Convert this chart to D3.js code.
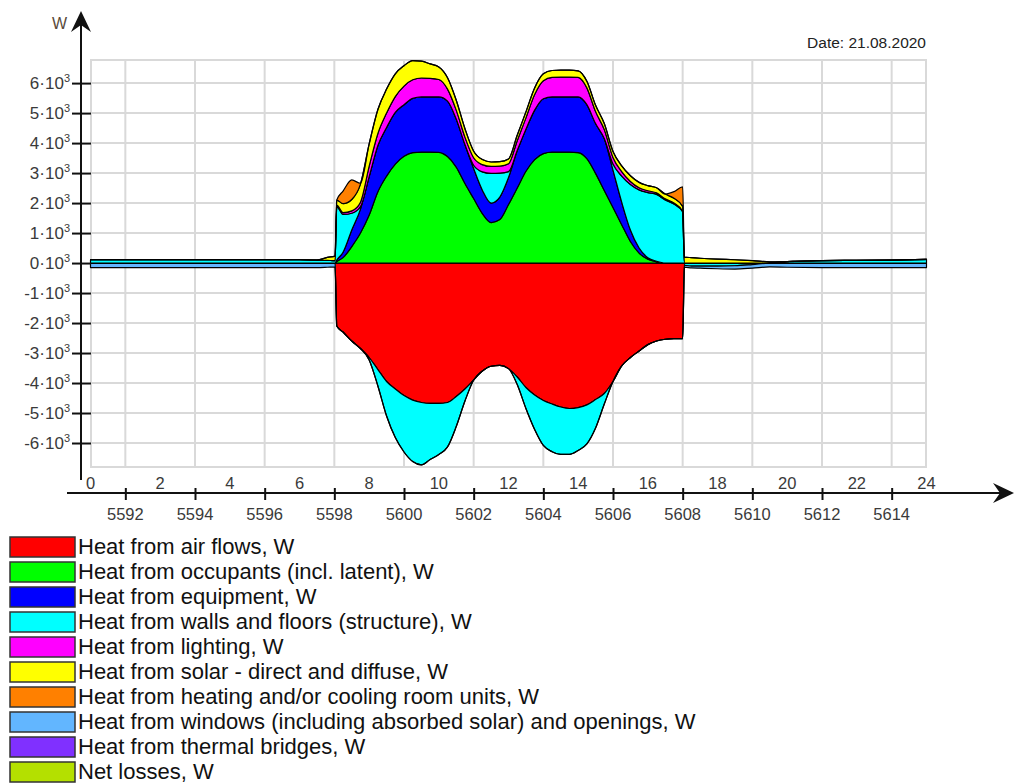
<!DOCTYPE html>
<html>
<head>
<meta charset="utf-8">
<script src="https://cdn.jsdelivr.net/npm/d3@7"></script>
<style>
  body { margin: 0; background: #fff; }
  svg { display: block; font-family: "Liberation Sans", Arial, sans-serif; }
</style>
</head>
<body>
<svg id="chart" width="1017" height="783"></svg>
<script>
// Hour of the day (top axis) for every sample
const hours = [0,1,2,3,4,5,6,6.5,6.8,7.02,
  7.07,7.25,7.5,7.75,8,8.25,8.5,8.75,9,9.25,9.5,9.75,10,10.25,10.5,10.75,11,11.25,11.5,11.75,12,12.25,12.5,12.75,13,13.25,13.5,13.75,14,14.25,14.5,14.75,15,15.25,15.5,15.75,16,16.25,16.5,16.75,17,
  17.05,17.25,17.5,18,18.5,19,19.5,20,21,22,23,24];

// Heat balance components, W
const airFlows = [0,0,0,0,0,0,0,0,0,0,
  -2100,-2300,-2600,-2850,-3150,-3550,-3950,-4200,-4420,-4570,-4650,-4680,-4680,-4650,-4450,-4200,-3900,-3600,-3440,-3410,-3520,-3800,-4150,-4400,-4580,-4700,-4800,-4850,-4820,-4730,-4550,-4350,-3950,-3430,-3150,-2930,-2720,-2600,-2540,-2520,-2520,
  0,0,0,0,0,0,0,0,0,0,0,0];
const occupants = [0,0,0,0,0,0,0,0,0,0,
  50,180,550,1000,1600,2380,2900,3300,3560,3680,3700,3700,3690,3550,3200,2650,2150,1650,1350,1450,1950,2500,3060,3450,3650,3700,3700,3700,3680,3480,2990,2420,1850,1280,720,330,130,40,0,0,0,
  0,0,0,0,0,0,0,0,0,0,0,0];
const equipment = [0,0,0,0,0,0,0,0,0,0,
  50,180,550,800,1280,1540,1620,1720,1720,1810,1840,1840,1850,1850,1600,1300,1000,780,650,750,900,1250,1400,1650,1830,1840,1840,1840,1860,1800,1660,1730,1250,750,380,170,50,20,0,0,0,
  0,0,0,0,0,0,0,0,0,0,0,0];
const structure = [110,110,110,110,110,110,110,100,90,80,
  1780,1260,560,80,-80,-550,-1150,-1620,-1880,-2050,-2080,-1870,-1700,-1480,-1000,-400,110,610,990,800,200,-250,-700,-1150,-1500,-1590,-1580,-1530,-1430,-1300,-950,-350,200,870,1520,1940,2170,2230,2100,1970,1710,
  -80,-100,-100,-100,-90,-50,0,50,80,90,100,120];
const lighting = [0,0,0,0,0,0,0,0,0,0,
  50,60,80,150,350,400,480,530,620,620,630,620,580,400,300,250,250,240,230,230,260,330,380,520,600,650,660,660,650,560,400,300,220,150,100,70,60,50,40,30,20,
  0,0,0,0,0,0,0,0,0,0,0,0];
const solar = [0,0,0,0,0,0,0,0,100,150,
  170,300,380,600,740,800,800,760,680,640,560,480,420,380,330,280,220,170,150,150,160,180,200,220,230,230,230,230,220,220,210,200,200,190,190,180,170,170,160,160,160,
  200,180,160,130,110,80,40,0,0,0,0,0];
const roomUnits = [0,0,0,0,0,0,0,0,0,0,
  0,420,650,30,0,0,0,0,0,0,0,0,0,0,0,0,0,0,0,0,0,0,0,0,0,0,0,0,0,0,0,0,0,0,0,0,0,0,0,220,650,
  0,0,0,0,0,0,0,0,0,0,0,0];
const windows = [-150,-150,-150,-150,-150,-150,-150,-150,-140,-130,
  0,0,0,0,0,0,0,0,0,0,0,0,0,0,0,0,0,0,0,0,0,0,0,0,0,0,0,0,0,0,0,0,0,0,0,0,0,0,0,0,0,
  -60,-60,-70,-90,-110,-120,-130,-140,-150,-150,-150,-150];
const thermalBridges = [0,0,0,0,0,0,0,0,0,0,
  0,0,0,0,0,0,0,0,0,0,0,0,0,0,0,0,0,0,0,0,0,0,0,0,0,0,0,0,0,0,0,0,0,0,0,0,0,0,0,0,0,
  0,0,0,0,0,0,0,0,0,0,0,0];
const netLosses = [0,0,0,0,0,0,0,0,0,0,
  0,0,0,0,0,0,0,0,0,0,0,0,0,0,0,0,0,0,0,0,0,0,0,0,0,0,0,0,0,0,0,0,0,0,0,0,0,0,0,0,0,
  0,0,0,0,0,0,0,0,0,0,0,0];

const seriesValues = [airFlows, occupants, equipment, structure, lighting, solar, roomUnits, windows, thermalBridges, netLosses];
const seriesKeys = ["airFlows","occupants","equipment","structure","lighting","solar","roomUnits","windows","thermalBridges","netLosses"];
const seriesLabels = [
  "Heat from air flows, W",
  "Heat from occupants (incl. latent), W",
  "Heat from equipment, W",
  "Heat from walls and floors (structure), W",
  "Heat from lighting, W",
  "Heat from solar - direct and diffuse, W",
  "Heat from heating and/or cooling room units, W",
  "Heat from windows (including absorbed solar) and openings, W",
  "Heat from thermal bridges, W",
  "Net losses, W"
];
const seriesColors = ["#ff0000","#00ff00","#0000ff","#00ffff","#ff00ff","#ffff00","#ff8000","#62b6ff","#8030ff","#b4e000"];

// Axis ticks
const yTicks = [-6000,-5000,-4000,-3000,-2000,-1000,0,1000,2000,3000,4000,5000,6000];
const dayHourTicks = [0,2,4,6,8,10,12,14,16,18,20,22,24];
const yearHourTicks = [5592,5594,5596,5598,5600,5602,5604,5606,5608,5610,5612,5614];
const yearHourAtDayStart = 5591;
const dateLabel = "Date: 21.08.2020";
const unitLabel = "W";

const svg = d3.select("#chart");
const plot = { left: 91, right: 926, top: 60, bottom: 467 };

const x = d3.scaleLinear().domain([0, 24]).range([90.5, 926.5]);
const y = d3.scaleLinear().domain([-6800, 6770]).range([plot.bottom, plot.top]);

// Grid
const grid = svg.append("g").attr("stroke", "#d9d9d9").attr("stroke-width", 2);
grid.selectAll("line.h").data(yTicks).join("line")
  .attr("x1", plot.left).attr("x2", plot.right)
  .attr("y1", d => y(d)).attr("y2", d => y(d));
grid.selectAll("line.v").data(yearHourTicks).join("line")
  .attr("x1", d => x(d - yearHourAtDayStart)).attr("x2", d => x(d - yearHourAtDayStart))
  .attr("y1", plot.top).attr("y2", plot.bottom);
grid.append("rect")
  .attr("x", plot.left).attr("y", plot.top)
  .attr("width", plot.right - plot.left).attr("height", plot.bottom - plot.top)
  .attr("fill", "none");

// Stacked areas: gains stack upwards, losses stack downwards
const rows = hours.map((h, i) => {
  const r = { hour: h };
  seriesKeys.forEach((k, j) => { r[k] = seriesValues[j][i]; });
  return r;
});
const posStack = d3.stack().keys(seriesKeys).value((d, k) => Math.max(0, d[k]))(rows);
const negStack = d3.stack().keys(seriesKeys).value((d, k) => Math.min(0, d[k]))(rows);

const area = d3.area()
  .x(d => x(d.data.hour))
  .y0(d => y(d[0]))
  .y1(d => y(d[1]))
  .curve(d3.curveMonotoneX);

const layers = svg.append("g");
[negStack, posStack].forEach(stack => {
  stack.forEach((layer, i) => {
    if (!layer.some(d => d[1] !== d[0])) return;
    layers.append("path")
      .datum(layer)
      .attr("d", area)
      .attr("fill", seriesColors[i])
      .attr("stroke", "#000")
      .attr("stroke-width", 1.2)
      .attr("stroke-linejoin", "round");
  });
});

// Y axis with arrow
const axisColor = "#111";
svg.append("line")
  .attr("x1", 81).attr("x2", 81).attr("y1", 480).attr("y2", 16)
  .attr("stroke", axisColor).attr("stroke-width", 2);
svg.append("path")
  .attr("d", "M81,11 L91,32 L81,25 L71,32 Z")
  .attr("fill", axisColor);
svg.append("g")
  .attr("transform", "translate(72,0)")
  .call(d3.axisRight(y).tickValues(yTicks).tickSize(19).tickFormat(""))
  .call(g => g.select(".domain").remove())
  .call(g => g.selectAll(".tick line").attr("stroke", axisColor).attr("stroke-width", 2));

const yLabels = svg.append("g")
  .attr("font-size", 17).attr("fill", "#3a3a3a").attr("text-anchor", "end");
yTicks.forEach(v => {
  const t = yLabels.append("text").attr("x", 70).attr("y", y(v) + 6);
  t.append("tspan").text(`${v / 1000}\u00b710`);
  t.append("tspan").attr("dy", -7).attr("font-size", 11).text("3");
});
svg.append("text")
  .attr("x", 67).attr("y", 29).attr("text-anchor", "end")
  .attr("font-size", 16).attr("fill", "#5a4a3a").text(unitLabel);

// X axis with arrow
svg.append("line")
  .attr("x1", 67).attr("x2", 1004).attr("y1", 493).attr("y2", 493)
  .attr("stroke", axisColor).attr("stroke-width", 2);
svg.append("path")
  .attr("d", "M1014,493 L993,483 L1000,493 L993,503 Z")
  .attr("fill", axisColor);
svg.append("g")
  .attr("transform", "translate(0,488)")
  .call(d3.axisBottom(x).tickValues(yearHourTicks.map(t => t - yearHourAtDayStart)).tickSize(12).tickFormat(""))
  .call(g => g.select(".domain").remove())
  .call(g => g.selectAll(".tick line").attr("stroke", axisColor).attr("stroke-width", 2));

svg.append("g").attr("font-size", 16.5).attr("fill", "#3a3a3a").attr("text-anchor", "middle")
  .selectAll("text").data(dayHourTicks).join("text")
  .attr("x", d => x(d)).attr("y", 489).text(d => d);
svg.append("g").attr("font-size", 16.5).attr("fill", "#3a3a3a").attr("text-anchor", "middle")
  .selectAll("text").data(yearHourTicks).join("text")
  .attr("x", d => x(d - yearHourAtDayStart)).attr("y", 520).text(d => d);

// Date caption
svg.append("text")
  .attr("x", 926).attr("y", 48).attr("text-anchor", "end")
  .attr("font-size", 15.5).attr("fill", "#222").text(dateLabel);

// Legend
const legend = svg.append("g");
seriesLabels.forEach((label, i) => {
  const top = 537 + i * 25;
  legend.append("rect")
    .attr("x", 10).attr("y", top).attr("width", 65).attr("height", 20)
    .attr("fill", seriesColors[i]).attr("stroke", "#333").attr("stroke-width", 1.5);
  legend.append("text")
    .attr("x", 78).attr("y", top + 17)
    .attr("font-size", 22).attr("fill", "#111").text(label);
});
</script>
</body>
</html>
